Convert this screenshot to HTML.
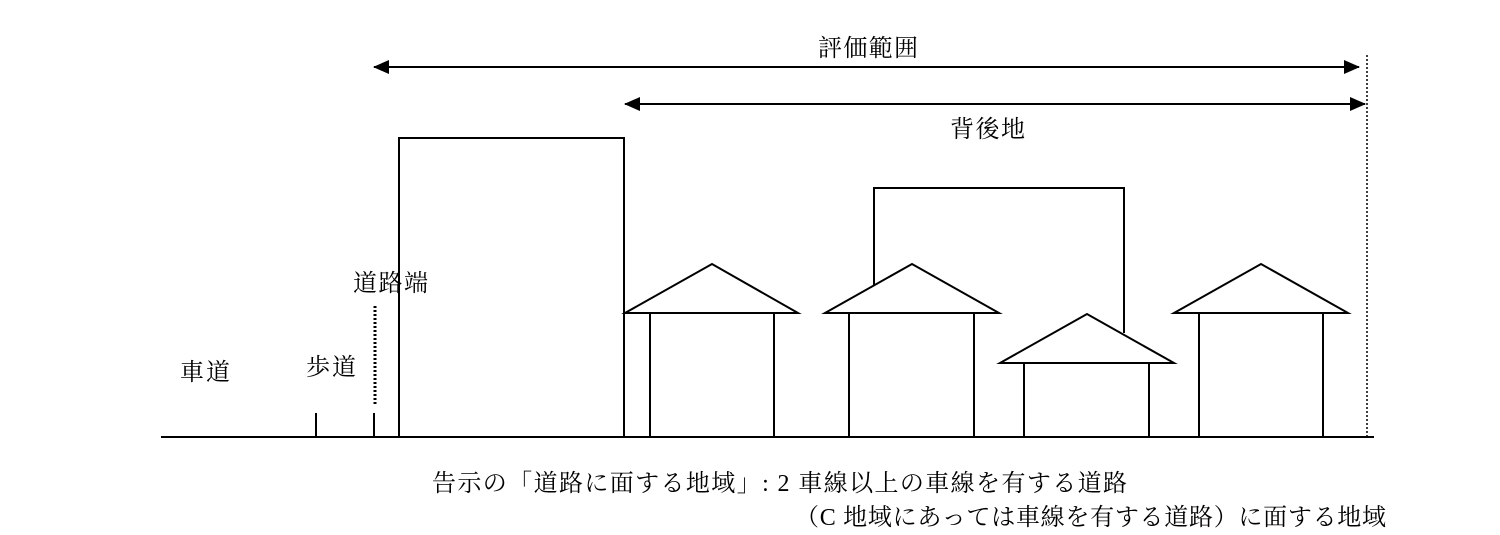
<!DOCTYPE html>
<html><head><meta charset="utf-8"><style>
body{margin:0;background:#fff;}
svg text{font-family:"Liberation Serif","Noto Serif CJK SC",serif;font-size:24px;fill:#000;}
</style></head><body>
<svg width="1500" height="530" viewBox="0 0 1500 530" xmlns="http://www.w3.org/2000/svg">
<defs>
<marker id="ah" markerWidth="16" markerHeight="14" refX="15" refY="7" orient="auto-start-reverse" markerUnits="userSpaceOnUse">
<path d="M0,0 L16,7 L0,14 Z" fill="#000"/></marker>
</defs>
<g stroke="#000" stroke-width="2" fill="none">
<line x1="161" y1="437" x2="1374" y2="437"/>
<line x1="316" y1="413" x2="316" y2="437"/>
<line x1="374" y1="413" x2="374" y2="437"/>
<line x1="375" y1="306" x2="375" y2="404" stroke-width="3" stroke-dasharray="2,2"/>
<line x1="1367" y1="55" x2="1367" y2="437" stroke-width="1.5" stroke-dasharray="2,2"/>
<rect x="399" y="138" width="225" height="299"/>
<polyline points="874,285 874,188 1124,188 1124,333"/>
<polygon points="625,313 712,264 798,313" fill="#fff"/>
<rect x="650" y="313" width="124" height="124"/>
<polygon points="825,313 912,264 999,313" fill="#fff"/>
<rect x="849" y="313" width="125" height="124"/>
<polygon points="1000,363 1087,314 1174,363" fill="#fff"/>
<rect x="1024" y="363" width="125" height="74" fill="#fff"/>
<polygon points="1174,313 1261,264 1348,313" fill="#fff"/>
<rect x="1199" y="313" width="124" height="124"/>
<line x1="374" y1="67" x2="1359" y2="67" marker-start="url(#ah)" marker-end="url(#ah)"/>
<line x1="625" y1="104" x2="1365" y2="104" marker-start="url(#ah)" marker-end="url(#ah)"/>
</g>
<text x="818" y="56" textLength="100" lengthAdjust="spacing">評価範囲</text>
<text x="950" y="137" textLength="75" lengthAdjust="spacing">背後地</text>
<text x="353" y="291" textLength="75" lengthAdjust="spacing">道路端</text>
<text x="306" y="375" textLength="50" lengthAdjust="spacing">歩道</text>
<text x="180" y="380" textLength="50" lengthAdjust="spacing">車道</text>
<text x="432" y="491" textLength="695" lengthAdjust="spacing">告示の「道路に面する地域」: 2 車線以上の車線を有する道路</text>
<text x="795" y="525" textLength="591" lengthAdjust="spacing">（C 地域にあっては車線を有する道路）に面する地域</text>
</svg>
</body></html>
